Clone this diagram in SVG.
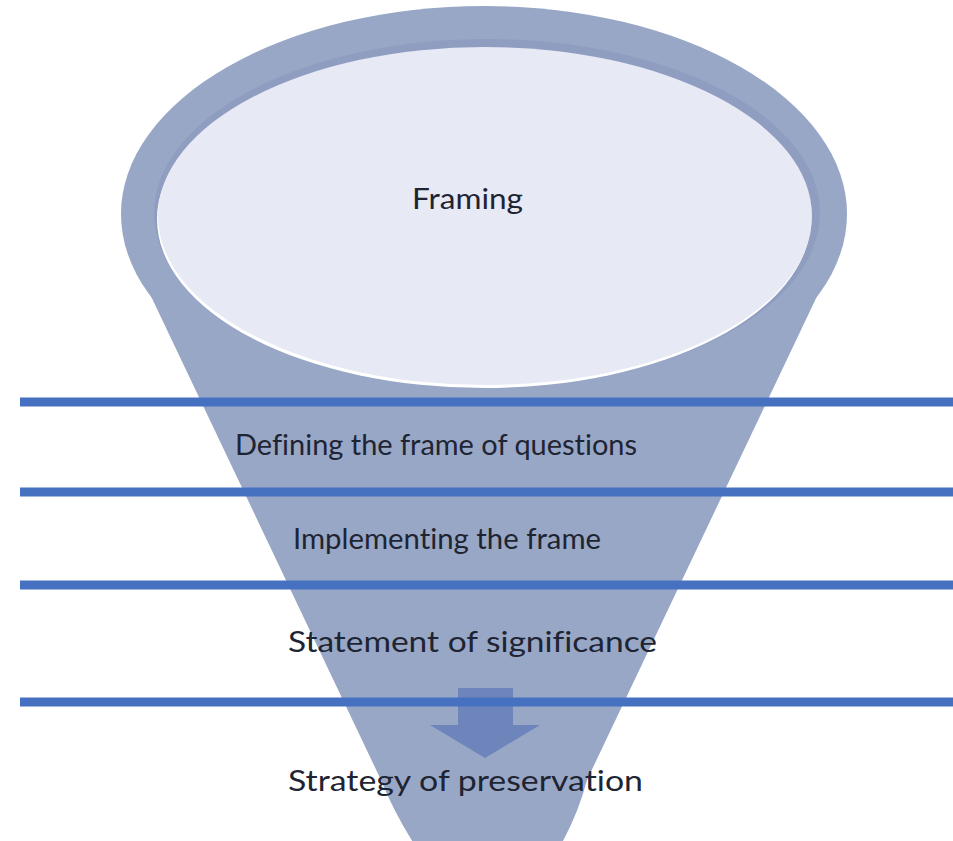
<svg xmlns="http://www.w3.org/2000/svg" width="953" height="841" viewBox="0 0 953 841">
  <style>
    .lbl { font-family: Lato, "Open Sans", "Liberation Sans", sans-serif; font-size: 28.5px; fill: #1e2432; font-variant-ligatures: none; }
    .band { stroke: #4671c0; stroke-width: 9; }
    .body { fill: #98a7c6; }
  </style>
  <rect width="953" height="841" fill="#ffffff"/>
  <g id="funnel">
    <ellipse class="body" cx="484" cy="214" rx="363" ry="208"/>
    <path class="body" d="M129,250 L839,250 L587,780 Q578,815 558,850 L418,850 Q395,815 381,780 Z"/>
    <ellipse cx="487" cy="213" rx="333" ry="174" fill="#8f9ec0"/>
    <ellipse cx="484" cy="219" rx="327" ry="169" fill="#ffffff"/>
    <ellipse cx="485" cy="216" rx="327" ry="169" fill="#e7e9f4"/>
  </g>
  <g id="arrow">
    <rect x="458" y="688" width="55" height="38" fill="#6d85bb"/>
    <polygon points="430,725 540,725 485,758" fill="#6d85bb"/>
  </g>
  <g id="separators">
    <line class="band" x1="20" y1="402" x2="953" y2="402"/>
    <line class="band" x1="20" y1="492" x2="953" y2="492"/>
    <line class="band" x1="20" y1="585" x2="953" y2="585"/>
    <line class="band" x1="20" y1="702" x2="953" y2="702"/>
  </g>
  <g id="framing"><text class="lbl" x="412" y="209" textLength="111" lengthAdjust="spacingAndGlyphs">Framing</text></g>
  <g id="defining"><text class="lbl" x="235" y="455" textLength="402" lengthAdjust="spacingAndGlyphs">Defining the frame of questions</text></g>
  <g id="implementing"><text class="lbl" x="293" y="549" textLength="308" lengthAdjust="spacingAndGlyphs">Implementing the frame</text></g>
  <g id="statement"><text class="lbl" x="288" y="652" textLength="369" lengthAdjust="spacingAndGlyphs">Statement of significance</text></g>
  <g id="strategy"><text class="lbl" x="288" y="791" textLength="355" lengthAdjust="spacingAndGlyphs">Strategy of preservation</text></g>
</svg>
